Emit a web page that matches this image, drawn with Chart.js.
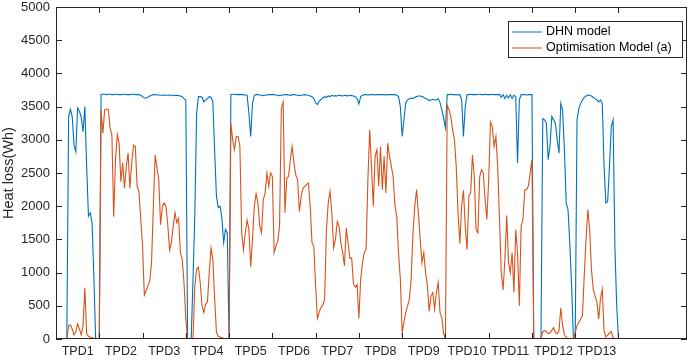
<!DOCTYPE html>
<html>
<head>
<meta charset="utf-8">
<script src="https://cdn.jsdelivr.net/npm/chart.js@4/dist/chart.umd.min.js"></script>
<style>
  body { margin: 0; background: #fff; }
  canvas { display: block; }
</style>
</head>
<body>
<canvas id="chart" width="692" height="362"></canvas>
<script>
// hourly heat loss (Wh), 24 values per typical period day
const tpdLabels = ["TPD1", "TPD2", "TPD3", "TPD4", "TPD5", "TPD6", "TPD7",
                   "TPD8", "TPD9", "TPD10", "TPD11", "TPD12", "TPD13"];
const yTicks = [0, 500, 1000, 1500, 2000, 2500, 3000, 3500, 4000, 4500, 5000];
const dayStarts = [0, 24, 48, 72, 96, 120, 144, 168, 192, 216, 240, 264, 288, 312];

const dhnModel = [
  0,0,0,0,0,0,3350,3460,3350,2920,2820,3480,3430,3340,3120,3500,2600,1850,1900,1750,950,0,0,0,
  3685,3685,3685,3680,3685,3685,3680,3680,3685,3685,3680,3680,3685,3685,3680,3680,3680,3685,3685,3680,3680,3680,3670,3650,
  3630,3630,3640,3660,3670,3680,3680,3675,3675,3670,3670,3675,3670,3670,3675,3670,3670,3665,3670,3665,3660,3650,3620,3600,
  0,0,0,900,1870,3400,3650,3650,3640,3570,3600,3620,3650,3640,3570,2820,2150,1980,2000,1820,1450,1650,1600,0,
  3680,3685,3685,3680,3680,3680,3680,3680,3675,3670,3400,3050,3550,3670,3680,3680,3675,3670,3665,3670,3675,3680,3680,3680,
  3680,3675,3670,3665,3670,3675,3680,3680,3675,3670,3680,3680,3675,3670,3665,3670,3675,3680,3675,3670,3660,3650,3620,3560,
  3530,3580,3610,3630,3650,3640,3660,3650,3670,3660,3665,3660,3670,3665,3660,3670,3665,3660,3670,3665,3660,3650,3620,3540,
  3650,3670,3680,3680,3675,3680,3680,3680,3675,3680,3680,3680,3680,3680,3675,3680,3680,3680,3680,3680,3670,3650,3500,3050,
  3300,3560,3600,3620,3630,3620,3640,3650,3660,3660,3650,3640,3620,3610,3590,3600,3610,3600,3600,3620,3560,3450,3330,3180,
  3680,3680,3685,3680,3680,3675,3680,3680,3600,3050,3500,3680,3680,3685,3680,3680,3680,3685,3685,3680,3680,3685,3680,3680,
  3680,3685,3680,3680,3680,3680,3640,3680,3620,3670,3630,3680,3620,3670,3650,2650,3600,3680,3680,3680,3675,3680,3680,3680,
  0,0,0,0,0,3320,3300,3250,2700,2900,3350,3300,3250,3000,2800,3550,3450,2850,2050,1950,1430,800,0,0,
  3300,3470,3550,3600,3640,3660,3675,3670,3660,3640,3620,3600,3570,3600,3550,2600,2050,2070,2600,3200,3300,1400,500,0
];

const optimisationA = [
  0,0,0,0,0,0,200,210,150,60,100,230,150,60,200,770,80,40,30,20,10,0,0,0,
  3450,3100,3450,3460,3460,3180,3070,1840,2700,3080,2950,2370,2650,2270,2600,2800,2270,2650,2920,2900,2300,2220,1820,1400,
  660,730,800,870,1150,2000,2770,2580,2400,1720,2000,2050,2000,1720,1340,1450,1700,1900,1750,1820,1300,1200,850,300,
  0,0,0,0,800,1050,1080,850,500,400,520,560,1000,1370,1200,600,100,40,30,20,10,5,0,0,
  3250,3000,2850,3050,3050,2900,1600,1340,1600,1790,1650,1090,1500,2000,2190,2050,1700,1600,2100,2200,2500,2300,2500,2450,
  1300,1400,1470,1700,3470,3570,1900,2420,2450,2700,2900,2650,2470,2400,1920,2150,2270,2300,2330,2350,2000,1450,1400,800,
  310,400,480,510,600,1650,2050,2220,1900,1370,1500,1770,1700,1450,1300,1100,1670,1450,1215,1220,830,780,820,310,
  900,1150,1300,1350,2400,3150,2600,2000,2750,2850,2300,2900,2250,2750,2200,2950,2750,2600,2450,2000,1850,1300,900,100,
  250,400,500,600,900,1600,2000,2250,1900,1500,1150,1300,1000,800,420,650,700,450,700,850,400,320,80,0,
  3520,3450,3350,3150,3000,2600,1900,1440,2000,2240,1700,1350,2150,2200,2770,2450,1650,1600,2440,2550,2500,2100,1800,2400,
  3270,3200,2900,3050,2600,1800,1000,740,1200,1860,1150,1000,1300,700,1650,1300,500,1700,1800,2240,2250,2300,2500,2700,
  0,0,0,0,0,110,130,110,80,90,130,170,100,80,120,470,200,60,30,0,0,0,0,100,
  200,250,300,350,950,1500,1950,1650,1050,750,650,560,300,600,750,120,30,60,90,110,20,0,0,0
];

const seriesNames = ["DHN model", "Optimisation Model (a)"];
const colors = ["#0072BD", "#D95319"];
const axisColor = "#262626";
const fontFamily = "'Liberation Sans', Arial, sans-serif";

Chart.defaults.font.family = fontFamily;
Chart.defaults.color = axisColor;

// box, inward ticks on all four sides, and the boxed legend
const matlabAxes = {
  id: "matlabAxes",
  afterDatasetsDraw(chart) {
    const { ctx, chartArea: a, scales: { x, y } } = chart;
    const len = 6;
    ctx.save();
    ctx.strokeStyle = axisColor;
    ctx.lineWidth = 1;
    ctx.strokeRect(a.left + 0.5, a.top + 0.5, a.right - a.left - 1, a.bottom - a.top - 1);
    ctx.beginPath();
    dayStarts.forEach((v) => {
      const px = Math.round(x.getPixelForValue(v)) + 0.5;
      ctx.moveTo(px, a.bottom);
      ctx.lineTo(px, a.bottom - len);
      ctx.moveTo(px, a.top);
      ctx.lineTo(px, a.top + len);
    });
    yTicks.forEach((v) => {
      const py = Math.round(y.getPixelForValue(v)) + 0.5;
      ctx.moveTo(a.left, py);
      ctx.lineTo(a.left + len, py);
      ctx.moveTo(a.right, py);
      ctx.lineTo(a.right - len, py);
    });
    ctx.stroke();

    // legend
    const bw = 174, bh = 36;
    const bx = a.right - 5 - bw, by = a.top + 14;
    ctx.fillStyle = "#fff";
    ctx.fillRect(bx, by, bw, bh);
    ctx.strokeRect(bx + 0.5, by + 0.5, bw, bh);
    ctx.font = "12.5px " + fontFamily;
    ctx.textBaseline = "middle";
    seriesNames.forEach((name, i) => {
      const ly = by + 11 + i * 16;
      ctx.strokeStyle = colors[i];
      ctx.beginPath();
      ctx.moveTo(bx + 4, ly);
      ctx.lineTo(bx + 34, ly);
      ctx.stroke();
      ctx.fillStyle = "#000";
      ctx.fillText(name, bx + 38, ly);
    });
    ctx.restore();
  },
};

const toPoints = (arr) => arr.map((v, i) => ({ x: i + 1, y: v }));

new Chart(document.getElementById("chart"), {
  type: "line",
  data: {
    datasets: [
      {
        label: seriesNames[0],
        data: toPoints(dhnModel),
        borderColor: colors[0],
        borderWidth: 1.1,
        pointRadius: 0,
        tension: 0,
        order: 1,
      },
      {
        label: seriesNames[1],
        data: toPoints(optimisationA),
        borderColor: colors[1],
        borderWidth: 1.1,
        pointRadius: 0,
        tension: 0,
        order: 0,
      },
    ],
  },
  options: {
    responsive: false,
    animation: false,
    layout: { padding: { top: 0, right: 5, left: 0, bottom: 0 } },
    plugins: { legend: { display: false }, tooltip: { enabled: false } },
    scales: {
      x: {
        type: "linear",
        min: 0,
        max: 350,
        grid: { display: false, drawTicks: false },
        border: { display: false },
        afterBuildTicks: (scale) => {
          scale.ticks = tpdLabels.map((_, i) => ({ value: 12 + 24 * i }));
        },
        afterFit: (scale) => { scale.height = 23; },
        ticks: {
          autoSkip: false,
          maxRotation: 0,
          padding: 5,
          font: { size: 12.5 },
          callback: (value, index) => tpdLabels[index],
        },
      },
      y: {
        min: 0,
        max: 5000,
        grid: { display: false, drawTicks: false },
        border: { display: false },
        afterFit: (scale) => {
          scale.width = 56;
          scale.paddingTop = 7;
          scale.paddingBottom = 0;
        },
        ticks: {
          stepSize: 500,
          padding: 6,
          font: { size: 13 },
          callback: (value) => String(value),
        },
        title: {
          display: true,
          text: "Heat loss(Wh)",
          font: { size: 14.5 },
          padding: 0,
        },
      },
    },
  },
  plugins: [matlabAxes],
});
</script>
</body>
</html>
